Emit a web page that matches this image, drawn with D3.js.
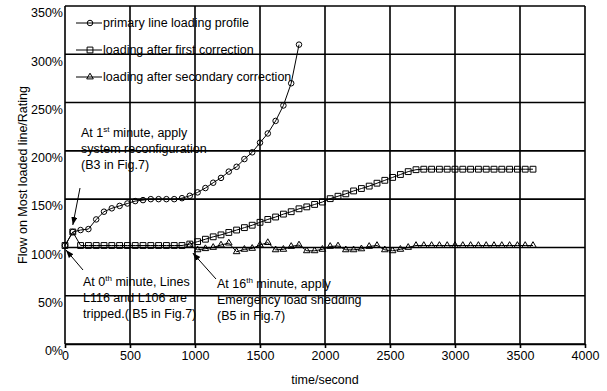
<!DOCTYPE html>
<html lang="en">
<head>
<meta charset="UTF-8">
<title>Flow on most loaded line</title>
<script src="https://d3js.org/d3.v7.min.js"></script>
<style>
    body {
        margin: 0;
        background: #fff;
    }
    svg {
        display: block;
        font-family: "Liberation Sans", Arial, sans-serif;
        font-size: 12.5px;
    }
    .grid line {
        stroke: #000;
        stroke-width: 1.6;
    }
    .series {
        fill: none;
        stroke: #000;
        stroke-width: 1;
    }
    .marker {
        fill: none;
        stroke: #000;
        stroke-width: 1;
    }
    .axis text {
        font-size: 12.5px;
        fill: #000;
    }
    .axis line, .axis path {
        stroke: #000;
        stroke-width: 1.6;
    }
</style>
</head>
<body>
<div id="chart"></div>
<script>
    // time in seconds, one sample per minute
    const timeSec = [0, 60, 120, 180, 240, 300, 360, 420, 480, 540, 600, 660, 720, 780, 840, 900,
        960, 1020, 1080, 1140, 1200, 1260, 1320, 1380, 1440, 1500, 1560, 1620, 1680, 1740, 1800,
        1860, 1920, 1980, 2040, 2100, 2160, 2220, 2280, 2340, 2400, 2460, 2520, 2580, 2640, 2700,
        2760, 2820, 2880, 2940, 3000, 3060, 3120, 3180, 3240, 3300, 3360, 3420, 3480, 3540, 3600];

    // % of rating, primary profile only runs to 1800 s
    const primaryLoading = [102, 116, 118, 119, 129, 137, 140.5, 143, 145.5, 148, 149, 150, 150, 150, 150, 151,
        153.5, 157, 161.5, 167, 172, 178.5, 183.5, 191.5, 198.5, 208.5, 218, 231, 247, 270, 310];

    const firstCorrection = [102, 116, 102, 102, 102, 102, 102, 102, 102, 102, 102, 102, 102, 102, 102, 102,
        103.5, 106, 108.5, 111, 113, 115.5, 118, 120.5, 123, 126, 129, 131.5, 134.5, 137, 140,
        142, 144.5, 147, 150.5, 153, 155.5, 158.5, 161, 163.5, 166.5, 169.5, 172.5, 175.5, 178.5, 180.5,
        181, 181, 181, 181, 181, 181, 181, 181, 181, 181, 181, 181, 181, 181, 181];

    // secondary correction starts at the 16th minute
    const secondCorrection = [null, null, null, null, null, null, null, null, null, null, null, null, null, null, null, null,
        102, 97.5, 98.7, 100, 102.5, 104.5, 95.5, 98, 99, 102.5, 105, 97.5, 98, 101, 102.5,
        96.5, 96.5, 98, 101, 101.5, 97.5, 97.5, 98.5, 101, 102, 97.5, 96.5, 98, 100, 102,
        102, 102, 102, 102, 102, 102, 102, 102, 102, 102, 102, 102, 102, 102, 102];

    const xTicks = [0, 500, 1000, 1500, 2000, 2500, 3000, 3500, 4000];
    const yTicks = [0, 50, 100, 150, 200, 250, 300, 350];

    const seriesNames = ["primary line loading profile", "loading after first correction", "loading after secondary correction"];

    const margin = {top: 6, right: 22, bottom: 47, left: 65};
    const width = 607 - margin.left - margin.right;
    const height = 391 - margin.top - margin.bottom;

    const svg = d3.select("#chart")
        .append("svg")
        .attr("width", 607)
        .attr("height", 391);

    svg.append("defs").append("marker")
        .attr("id", "arrow")
        .attr("markerUnits", "userSpaceOnUse")
        .attr("markerWidth", 9)
        .attr("markerHeight", 7)
        .attr("refX", 8)
        .attr("refY", 3)
        .attr("orient", "auto")
        .append("path")
        .attr("d", "M0,0L8,3L0,6Z")
        .attr("fill", "#000");

    const g = svg.append("g")
        .attr("transform", `translate(${margin.left},${margin.top})`);

    const x = d3.scaleLinear().domain([0, 4000]).range([0, width]);
    const y = d3.scaleLinear().domain([0, 350]).range([height, 0]);

    // grid
    const grid = g.append("g").attr("class", "grid");
    grid.selectAll(".v").data(xTicks).join("line")
        .attr("x1", d => x(d)).attr("x2", d => x(d))
        .attr("y1", 0).attr("y2", height);
    grid.selectAll(".h").data(yTicks).join("line")
        .attr("x1", 0).attr("x2", width)
        .attr("y1", d => y(d)).attr("y2", d => y(d));

    // axes
    g.append("g")
        .attr("class", "axis")
        .attr("transform", `translate(0,${height})`)
        .call(d3.axisBottom(x).tickValues(xTicks).tickFormat(d3.format("d"))
            .tickSize(4).tickSizeOuter(0).tickPadding(3));

    const yAxis = g.append("g")
        .attr("class", "axis")
        .call(d3.axisLeft(y).tickValues(yTicks).tickFormat(d => d + "%").tickSize(0).tickPadding(2));
    yAxis.selectAll("text").attr("dy", "0.86em");
    yAxis.select(".domain").remove();

    svg.append("text")
        .attr("transform", "translate(27,175) rotate(-90)")
        .attr("text-anchor", "middle")
        .text("Flow on Most loaded line/Rating");

    svg.append("text")
        .attr("x", margin.left + width / 2)
        .attr("y", 384)
        .attr("text-anchor", "middle")
        .text("time/second");

    // series
    const series = [
        {values: primaryLoading, symbol: d3.symbolCircle, size: 24},
        {values: firstCorrection, symbol: d3.symbolSquare, size: 34},
        {values: secondCorrection, symbol: d3.symbolTriangle, size: 19}
    ];

    const line = d3.line()
        .defined(d => d.v !== null)
        .x(d => x(d.t))
        .y(d => y(d.v));

    series.forEach(s => {
        const pts = s.values.map((v, i) => ({t: timeSec[i], v: v}));
        g.append("path")
            .datum(pts)
            .attr("class", "series")
            .attr("d", line);
        g.selectAll(null)
            .data(pts.filter(d => d.v !== null))
            .join("path")
            .attr("class", "marker")
            .attr("transform", d => `translate(${x(d.t)},${y(d.v)})`)
            .attr("d", d3.symbol(s.symbol, s.size));
    });

    // legend
    const legend = g.append("g").attr("transform", "translate(11,17)");
    seriesNames.forEach((name, i) => {
        const row = legend.append("g").attr("transform", `translate(0,${i * 27})`);
        row.append("line")
            .attr("x1", 0).attr("x2", 26)
            .attr("stroke", "#000");
        row.append("path")
            .attr("class", "marker")
            .attr("transform", "translate(14,0)")
            .attr("d", d3.symbol(series[i].symbol, series[i].size));
        row.append("text")
            .attr("x", 27)
            .attr("y", 3.5)
            .text(name);
    });

    // annotations: text lines (with optional superscript) and arrow to a data point
    const notes = [
        {x: 81, y: 137, lines: [["At 1", "st", " minute, apply"], ["system reconfiguration"], ["(B3 in Fig.7)"]],
            from: [80, 188], at: [60, 116], off: [0, -7]},
        {x: 83, y: 286, lines: [["At 0", "th", " minute, Lines"], ["L116 and L106 are"], ["tripped.( B5 in Fig.7)"]],
            from: [83, 270], at: [0, 102], off: [1, 4.5]},
        {x: 217, y: 288, lines: [["At 16", "th", " minute, apply"], ["Emergency load shedding"], ["(B5 in Fig.7)"]],
            from: [216, 279], at: [960, 102], off: [3, 7.5]}
    ];

    notes.forEach(n => {
        n.lines.forEach((parts, i) => {
            const t = svg.append("text")
                .attr("x", n.x)
                .attr("y", n.y + i * 16);
            t.append("tspan").text(parts[0]);
            if (parts.length > 1) {
                t.append("tspan").attr("dy", -5).style("font-size", "8px").text(parts[1]);
                t.append("tspan").attr("dy", 5).text(parts[2]);
            }
        });
        svg.append("line")
            .attr("x1", n.from[0]).attr("y1", n.from[1])
            .attr("x2", margin.left + x(n.at[0]) + n.off[0])
            .attr("y2", margin.top + y(n.at[1]) + n.off[1])
            .attr("stroke", "#000")
            .attr("stroke-width", 1)
            .attr("marker-end", "url(#arrow)");
    });
</script>
</body>
</html>
